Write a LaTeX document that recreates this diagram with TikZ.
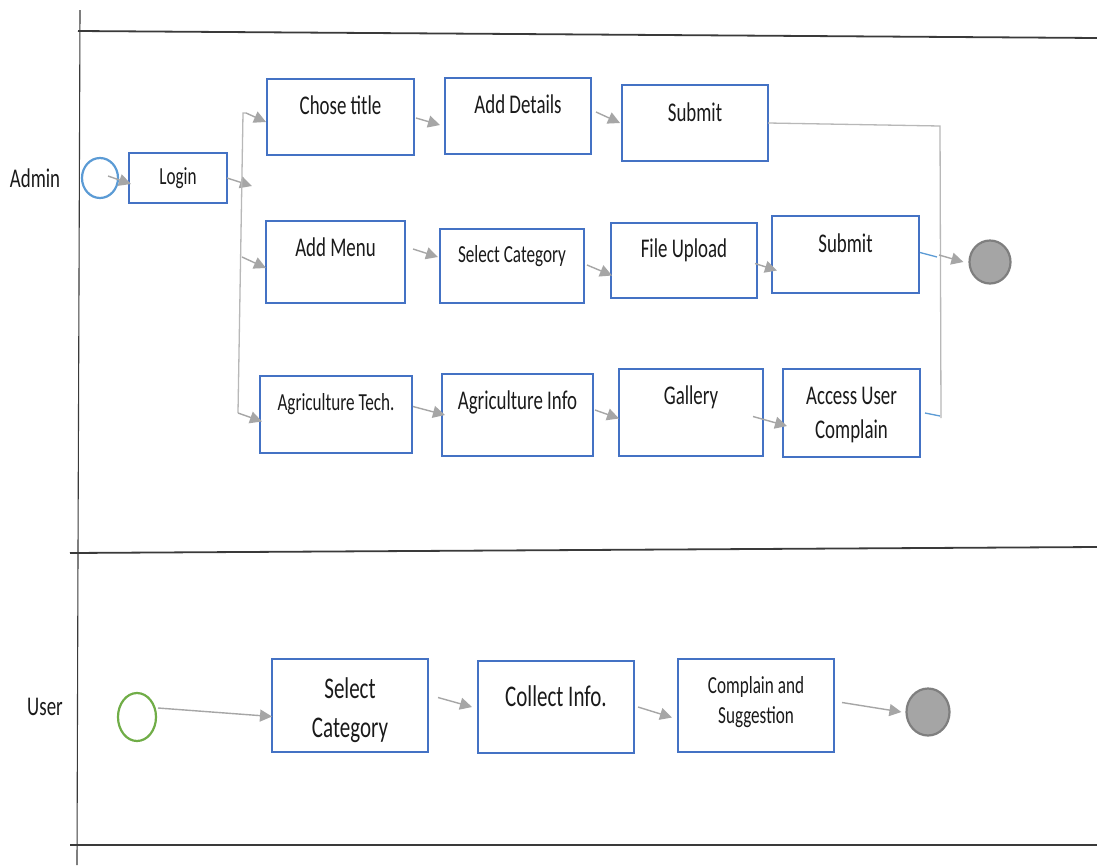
\documentclass[tikz,border=0pt]{standalone}
\usepackage{fontspec}
\setmainfont{Carlito}[FakeStretch=0.7]
\usetikzlibrary{arrows.meta,shapes.geometric}
\definecolor{boxblue}{HTML}{4472C4}
\definecolor{startblue}{HTML}{5B9BD5}
\definecolor{startgreen}{HTML}{70AD47}
\definecolor{arrgray}{HTML}{A6A6A6}
\definecolor{endfill}{HTML}{A5A5A5}
\definecolor{endline}{HTML}{7F7F7F}
\definecolor{lanecol}{HTML}{3A3A3A}
\definecolor{txtcol}{HTML}{1A1A1A}
\newcommand\mybox[5]{\node[actbox, minimum width={#4-#2}, minimum height={#5-#3}] (#1) at ({(#2+#4)/2},{(#3+#5)/2}) {};}
\newcommand\mytxt[5]{\node[txt, font=\fontsize{#4}{#4}\selectfont] (#1) at (#2,#3) {#5};}
\begin{document}
\begin{tikzpicture}[x=1pt,y=-1pt,
  actbox/.style={draw=boxblue, line width=2.2pt, rectangle, inner sep=0pt, outer sep=0pt},
  txt/.style={anchor=base, inner sep=0pt, text=txtcol},
  arr/.style={draw=arrgray, line width=1.4pt, -{Triangle[length=12pt,width=12pt]}},
  plain/.style={draw=arrgray!80, line width=1.3pt},
  bluel/.style={draw=startblue, line width=1.3pt},
  lane/.style={draw=lanecol, line width=1.4pt},
  startA/.style={ellipse, draw=startblue, line width=2.2pt, inner sep=0pt},
  startU/.style={ellipse, draw=startgreen, line width=2.2pt, inner sep=0pt},
  endst/.style={ellipse, draw=endline, fill=endfill, line width=2.2pt, inner sep=0pt}]
\useasboundingbox (0,0) rectangle (1097,865);
\fill[white] (0,0) rectangle (1097,865);
% swimlanes
\draw[lane, line width=1.1pt] (80,10) -- (78,553) -- (77,865);
\draw[lane, line width=1.8pt] (78,31) -- (1097,38);
\draw[lane, line width=1.8pt] (70,553) -- (1097,547);
\draw[lane, line width=1.8pt] (70,845) -- (1097,845);
\mytxt{lblA}{35}{187}{27}{Admin}
\mytxt{lblU}{45}{715}{27}{User}
% admin lane nodes
\node[startA, minimum width=36pt, minimum height=40pt] (sA) at (100,178) {};
\mybox{login}{129}{153}{227}{203}
\mytxt{tlogin}{178}{184}{24.5}{Login}
\mybox{chose}{267}{79}{414}{155}
\mytxt{tchose}{340.5}{114}{27}{Chose title}
\mybox{details}{445}{78}{591}{154}
\mytxt{tdetails}{518}{113}{27}{Add Details}
\mybox{subA}{622}{85}{768}{161}
\mytxt{tsubA}{695}{121}{27}{Submit}
\mybox{menu}{266}{221}{405}{303}
\mytxt{tmenu}{335.5}{256}{27}{Add Menu}
\mybox{selcat}{440}{229}{584}{303}
\mytxt{tselcat}{512}{262}{24.5}{Select Category}
\mybox{file}{611}{223}{757}{298}
\mytxt{tfile}{684}{257}{27}{File Upload}
\mybox{subB}{772}{216}{919}{293}
\mytxt{tsubB}{845.5}{252}{27}{Submit}
\mybox{tech}{260}{376}{412}{453}
\mytxt{ttech}{336}{410}{24.5}{Agriculture Tech.}
\mybox{info}{442}{374}{593}{456}
\mytxt{tinfo}{517.5}{409}{27}{Agriculture Info}
\mybox{gallery}{619}{369}{763}{456}
\mytxt{tgallery}{691}{404}{27}{Gallery}
\mybox{access}{783}{369}{920}{457}
\mytxt{taccessa}{851.5}{404}{27}{Access User}
\mytxt{taccessb}{851.5}{438}{27}{Complain}
\node[endst, minimum width=41pt, minimum height=43pt] (endA) at (990,262) {};
% fork / join coordinates
\coordinate (fj) at (252,186);
\coordinate (fkT) at (243,113);
\coordinate (fkT2) at (246,113);
\coordinate (fkM) at (242,257);
\coordinate (fkB) at (238,413);
\coordinate (jT) at (940,126);
\coordinate (jM) at (939,255);
\coordinate (jB) at (941,418);
\coordinate (bA) at (937,257);
\coordinate (bB) at (940,416);
% admin connectors
\draw[arr] ([shift={(8,-2)}]sA.center) -- ([shift={(2,6)}]login.west);
\draw[arr] (login.east) -- (fj);
\draw[plain] (fkT2) -- (fkT) -- (fkB);
\draw[arr] (fkT2) -- ([shift={(-1,5)}]chose.west);
\draw[arr] (fkM) -- ([shift={(0,6)}]menu.west);
\draw[arr] (fkB) -- ([shift={(2,7)}]tech.west);
\draw[arr] ([shift={(2,1)}]chose.east) -- ([shift={(-5,9)}]details.west);
\draw[arr] ([shift={(5,-4)}]details.east) -- ([shift={(-2,0)}]subA.west);
\draw[plain] (subA.east) -- (jT) -- (jB);
\draw[arr] ([shift={(8,-13)}]menu.east) -- ([shift={(-2,-9)}]selcat.west);
\draw[arr] ([shift={(3,-1)}]selcat.east) -- ([shift={(1,15)}]file.west);
\draw[arr] ([shift={(-2,3)}]file.east) -- ([shift={(5,16)}]subB.west);
\draw[bluel] ([shift={(1,-2)}]subB.east) -- (bA);
\draw[arr] (jM) -- ([xshift=-5]endA.west);
\draw[arr] ([shift={(1,-8)}]tech.east) -- ([shift={(3,0)}]info.west);
\draw[arr] ([shift={(2,-5)}]info.east) -- ([shift={(0,6)}]gallery.west);
\draw[arr] ([shift={(-10,4)}]gallery.east) -- ([shift={(4,13)}]access.west);
\draw[bluel] ([shift={(5,0)}]access.east) -- (bB);
% user lane nodes
\node[startU, minimum width=38pt, minimum height=48pt] (sU) at (137,717) {};
\mybox{selU}{272}{659}{428}{752}
\mytxt{tselUa}{350}{698}{30}{Select}
\mytxt{tselUb}{350}{737}{30}{Category}
\mybox{collect}{478}{661}{634}{753}
\mytxt{tcollect}{556}{706}{30}{Collect Info.}
\mybox{compl}{678}{659}{834}{752}
\mytxt{tcompla}{756}{693}{24.5}{Complain and}
\mytxt{tcomplb}{756}{723}{24.5}{Suggestion}
\node[endst, minimum width=43pt, minimum height=47pt] (endU) at (928,712) {};
% user connectors
\draw[arr] ([shift={(21,-9)}]sU.center) -- ([shift={(0,11)}]selU.west);
\draw[arr] ([shift={(10,-8)}]selU.east) -- ([shift={(-6,0)}]collect.west);
\draw[arr] ([shift={(4,0)}]collect.east) -- ([shift={(-6,12)}]compl.west);
\draw[arr] ([shift={(8,-3)}]compl.east) -- ([xshift=-4]endU.west);
\end{tikzpicture}
\end{document}
